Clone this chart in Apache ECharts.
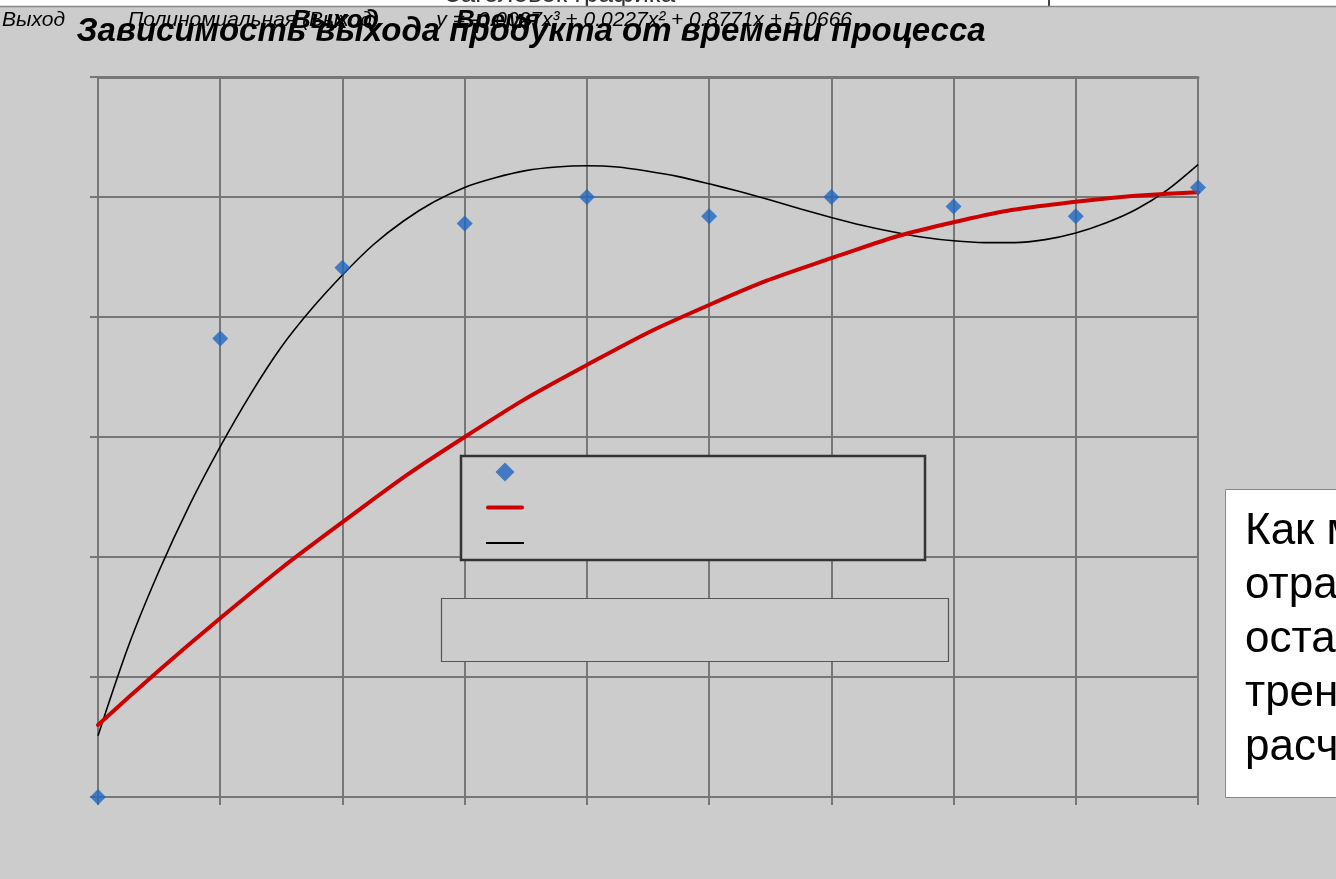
<!DOCTYPE html>
<html>
<head>
<meta charset="utf-8">
<script src="https://cdn.jsdelivr.net/npm/echarts@6/dist/echarts.min.js"></script>
<style>
  html, body { margin: 0; padding: 0; background: #cccccc; }
  #chart { width: 1336px; height: 879px; }
</style>
</head>
<body>
<div id="chart"></div>
<script>
// Время процесса (ч) и выход продукта
const timeValues = [0, 1, 2, 3, 4, 5, 6, 7, 8, 9];
const yieldValues = [0, 3.82, 4.41, 4.78, 5.0, 4.84, 5.0, 4.92, 4.84, 5.08];

// Линия тренда 2-й степени
const trend2X = [0, 1, 2, 3, 4, 5, 6, 7, 8, 9];
const trend2Y = [0.6, 1.49, 2.29, 3.0, 3.6, 4.1, 4.49, 4.79, 4.96, 5.04];

// Линия тренда 3-й степени (шаг 0.25)
const trend3X = [0, 0.25, 0.5, 0.75, 1, 1.25, 1.5, 1.75, 2, 2.25, 2.5, 2.75, 3, 3.25, 3.5, 3.75, 4, 4.25, 4.5, 4.75,
                 5, 5.25, 5.5, 5.75, 6, 6.25, 6.5, 6.75, 7, 7.25, 7.5, 7.75, 8, 8.25, 8.5, 8.75, 9];
const trend3Y = [0.51, 1.26, 1.885, 2.435, 2.92, 3.36, 3.75, 4.07, 4.35, 4.6, 4.8, 4.96, 5.08, 5.16, 5.22, 5.25, 5.26, 5.25, 5.215, 5.17,
                 5.11, 5.045, 4.975, 4.9, 4.83, 4.765, 4.71, 4.665, 4.635, 4.62, 4.62, 4.645, 4.7, 4.785, 4.9, 5.06, 5.27];

const titleText = 'Зависимость выхода продукта от времени процесса';
const seriesName = 'Выход';
const trend2Name = 'Полиномиальная (Выход)';
const trend3Name = 'Полиномиальная (Выход) ';
const equationText = 'y = -0.0027x³ + 0.0227x² + 0.8771x + 5.0666';
const xAxisName = 'Время';
const yAxisName = 'Выход';
const noteLines = ['Как мы видим,', 'отражает', 'остается', 'тренда', 'расчета'];

const zip = (xs, ys) => xs.map((x, i) => [x, ys[i]]);
const FONT = '"Liberation Sans", Arial, sans-serif';

const chart = echarts.init(document.getElementById('chart'), null, { renderer: 'canvas' });

const gridColor = '#777777';
const markerColor = '#2166c0';

chart.setOption({
  backgroundColor: '#cccccc',
  animation: false,
  grid: { left: 98, right: 138, top: 77, bottom: 82 },
  xAxis: [{
    type: 'value', min: 0, max: 9, interval: 1,
    axisLine: { show: true, lineStyle: { color: gridColor, width: 2 } },
    axisTick: { show: true, length: 8, lineStyle: { color: gridColor, width: 2 } },
    axisLabel: { show: false },
    splitLine: { show: true, lineStyle: { color: gridColor, width: 2 } }
  }, {
    type: 'value', min: 0, max: 9, position: 'top',
    axisLine: { show: true, lineStyle: { color: gridColor, width: 3 } },
    axisTick: { show: false }, axisLabel: { show: false }, splitLine: { show: false }
  }],
  yAxis: {
    type: 'value', min: 0, max: 6, interval: 1,
    axisLine: { show: false },
    axisTick: { show: true, length: 8, lineStyle: { color: gridColor, width: 2 } },
    axisLabel: { show: false },
    splitLine: { show: true, lineStyle: { color: gridColor, width: 2 } }
  },
  legend: {
    orient: 'vertical', left: 486, top: 462.5, z: 30,
    itemWidth: 38, itemHeight: 19, itemGap: 16.5,
    symbolKeepAspect: true,
    formatter: () => ' ',
    textStyle: { fontSize: 12, lineHeight: 19, padding: 0 },
    padding: 0,
    data: [
      { name: seriesName, icon: 'path://M7,0L14,7L7,14L0,7Z' },
      { name: trend2Name, icon: 'path://M2,0L36,0A2,2,0,0,1,36,4L2,4A2,2,0,0,1,2,0Z' },
      { name: trend3Name, icon: 'path://M0,0L36,0L36,2L0,2Z' }
    ]
  },
  series: [
    {
      name: trend3Name, type: 'line', smooth: 0.3, showSymbol: false, symbol: 'none',
      data: zip(trend3X, trend3Y), z: 2,
      lineStyle: { color: '#000000', width: 1.6 }, itemStyle: { color: '#000000' }
    },
    {
      name: trend2Name, type: 'line', smooth: 0.5, showSymbol: false, symbol: 'none',
      data: zip(trend2X, trend2Y), z: 3,
      lineStyle: { color: '#cc0000', width: 4, cap: 'round' }, itemStyle: { color: '#cc0000' }
    },
    {
      name: seriesName, type: 'scatter', symbol: 'diamond', symbolSize: 16,
      data: zip(timeValues, yieldValues), z: 4,
      itemStyle: { color: markerColor }
    }
  ],
  graphic: [
    // полоса листа над диаграммой
    { type: 'rect', z: 1, shape: { x: 0, y: 0, width: 1336, height: 7 }, style: { fill: '#ffffff' } },
    { type: 'text', z: 2, style: { text: 'Заголовок графика', x: 445, y: 8, verticalAlign: 'bottom', font: '26px ' + FONT, fill: '#333333' } },
    { type: 'rect', z: 2, shape: { x: 1048, y: 0, width: 2, height: 7 }, style: { fill: '#444444' } },
    { type: 'rect', z: 3, shape: { x: 0, y: 7, width: 1336, height: 30 }, style: { fill: '#cccccc' } },
    { type: 'line', z: 4, shape: { x1: 0, y1: 6.5, x2: 1336, y2: 6.5 }, style: { stroke: '#888888', lineWidth: 1.5 } },

    // рамка легенды и пустая подпись
    { type: 'rect', z: 5, shape: { x: 461, y: 456, width: 464, height: 104 }, style: { fill: '#cccccc', stroke: '#333333', lineWidth: 2.5 } },
    { type: 'rect', z: 5, shape: { x: 441.5, y: 598.5, width: 507, height: 63 }, style: { fill: '#cccccc', stroke: '#555555', lineWidth: 1.2 } },

    // надписи у верхнего края
    { type: 'text', z: 10, style: { text: seriesName, x: 2, y: 10, font: 'italic 21px ' + FONT, fill: '#000' } },
    { type: 'text', z: 10, style: { text: trend2Name, x: 128, y: 10, font: 'italic 21px ' + FONT, fill: '#000' } },
    { type: 'text', z: 10, style: { text: equationText, x: 852, y: 10, textAlign: 'right', font: 'italic 21px ' + FONT, fill: '#000' } },
    { type: 'text', z: 10, style: { text: yAxisName, x: 292, y: 8, font: 'italic bold 26px ' + FONT, fill: '#000' } },
    { type: 'text', z: 10, style: { text: xAxisName, x: 456, y: 8, font: 'italic bold 26px ' + FONT, fill: '#000' } },
    { type: 'text', z: 11, style: { text: titleText, x: 531, y: 15, textAlign: 'center', font: 'italic bold 33px ' + FONT, fill: '#000' } },

    // поясняющий текст справа
    { type: 'rect', z: 12, shape: { x: 1225.5, y: 489.5, width: 130, height: 308 }, style: { fill: '#ffffff', stroke: '#888888', lineWidth: 1 } },
    { type: 'text', z: 13, style: { text: noteLines.join('\n'), x: 1245, y: 505, lineHeight: 54, font: '44px ' + FONT, fill: '#000' } }
  ]
});
</script>
</body>
</html>
